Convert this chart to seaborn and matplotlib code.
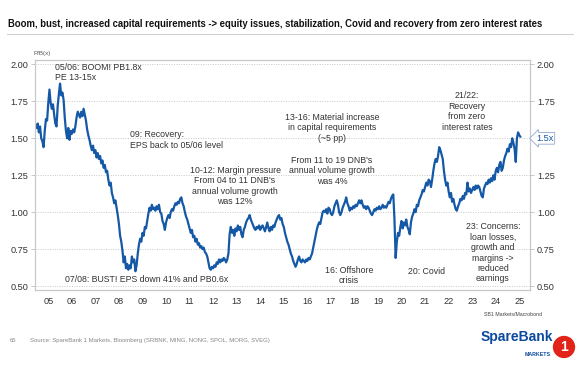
import numpy as np
import pandas as pd
import matplotlib
matplotlib.use("Agg")
import matplotlib.pyplot as plt
import seaborn as sns

# --- data: P/B (x), sampled every 0.05 year from 2005.00
start_year = 2005.0
step = 0.05
pb = [
    # 2005
    1.57, 1.60, 1.54, 1.58, 1.50, 1.48, 1.44, 1.55, 1.63, 1.62, 1.74, 1.83, 1.74, 1.70, 1.73, 1.66, 1.60, 1.58, 1.72, 1.80,
    # 2006
    1.87, 1.79, 1.81, 1.76, 1.64, 1.55, 1.50, 1.57, 1.49, 1.55, 1.53, 1.56, 1.54, 1.58, 1.64, 1.68, 1.66, 1.64, 1.68, 1.65,
    # 2007
    1.70, 1.66, 1.62, 1.56, 1.52, 1.49, 1.45, 1.42, 1.45, 1.40, 1.42, 1.37, 1.40, 1.36, 1.38, 1.33, 1.35, 1.30, 1.32, 1.27,
    # 2008
    1.28, 1.22, 1.18, 1.20, 1.13, 1.10, 1.06, 1.08, 1.03, 0.98, 0.92, 0.84, 0.80, 0.74, 0.66, 0.70, 0.62, 0.65, 0.61, 0.64,
    # 2009
    0.62, 0.70, 0.66, 0.68, 0.60, 0.64, 0.72, 0.78, 0.82, 0.80, 0.86, 0.84, 0.90, 0.89, 0.94, 0.99, 1.03, 1.01, 1.05, 1.02,
    # 2010
    1.03, 1.01, 1.04, 1.02, 1.05, 1.00, 0.99, 0.94, 0.92, 0.88, 0.93, 0.96, 0.98, 0.96, 1.00, 1.02, 1.01, 1.04, 1.06, 1.05,
    # 2011
    1.07, 1.06, 1.09, 1.10, 1.06, 1.04, 1.00, 0.97, 0.95, 0.92, 0.89, 0.86, 0.88, 0.83, 0.84, 0.80, 0.82, 0.78, 0.79, 0.76,
    # 2012
    0.77, 0.75, 0.76, 0.73, 0.72, 0.70, 0.66, 0.62, 0.61, 0.63, 0.62, 0.64, 0.63, 0.66, 0.65, 0.68, 0.66, 0.68, 0.67, 0.69,
    # 2013
    0.68, 0.66, 0.68, 0.72, 0.85, 0.90, 0.86, 0.88, 0.84, 0.89, 0.87, 0.91, 0.88, 0.90, 0.85, 0.83, 0.88, 0.90, 0.93, 0.95,
    # 2014
    0.96, 0.98, 0.95, 0.93, 0.91, 0.89, 0.88, 0.90, 0.89, 0.91, 0.88, 0.90, 0.91, 0.89, 0.87, 0.90, 0.93, 0.89, 0.87, 0.90,
    # 2015
    0.88, 0.91, 0.90, 0.93, 0.95, 0.97, 0.98, 0.95, 0.96, 0.92, 0.90, 0.86, 0.83, 0.80, 0.78, 0.75, 0.72, 0.70, 0.67, 0.65,
    # 2016
    0.63, 0.65, 0.68, 0.70, 0.67, 0.66, 0.68, 0.67, 0.66, 0.68, 0.67, 0.69, 0.68, 0.70, 0.72, 0.76, 0.80, 0.84, 0.88, 0.91,
    # 2017
    0.93, 0.92, 0.96, 1.00, 1.01, 1.00, 1.02, 0.99, 1.03, 1.02, 0.99, 0.98, 1.00, 1.04, 1.06, 1.08, 1.05, 1.00, 0.98, 1.00,
    # 2018
    1.03, 1.05, 1.07, 1.10, 1.06, 1.04, 1.01, 1.03, 1.02, 1.04, 1.03, 1.05, 1.04, 1.06, 1.08, 1.06, 1.08, 1.05, 1.03, 1.04,
    # 2019
    1.02, 1.04, 1.03, 1.01, 0.99, 0.98, 1.00, 1.02, 1.01, 1.03, 1.02, 1.04, 1.02, 1.03, 1.05, 1.03, 1.04, 1.03, 1.05, 1.07,
    # 2020
    1.06, 1.09, 1.11, 1.12, 0.95, 0.69, 0.80, 0.86, 0.84, 0.90, 0.94, 0.89, 0.93, 0.91, 0.95, 0.90, 0.88, 0.85, 0.93, 0.97,
    # 2021
    0.99, 1.02, 1.00, 1.05, 1.04, 1.08, 1.10, 1.12, 1.15, 1.14, 1.17, 1.20, 1.18, 1.22, 1.21, 1.17, 1.22, 1.28, 1.33, 1.36,
    # 2022
    1.34, 1.38, 1.44, 1.42, 1.39, 1.36, 1.28, 1.22, 1.18, 1.20, 1.14, 1.10, 1.13, 1.07, 1.09, 1.05, 1.02, 1.01, 1.04, 1.06,
    # 2023
    1.09, 1.08, 1.11, 1.09, 1.13, 1.12, 1.20, 1.14, 1.16, 1.13, 1.15, 1.17, 1.15, 1.18, 1.16, 1.18, 1.17, 1.14, 1.11, 1.10,
    # 2024
    1.16, 1.18, 1.20, 1.19, 1.22, 1.20, 1.23, 1.21, 1.25, 1.22, 1.28, 1.30, 1.27, 1.32, 1.34, 1.28, 1.30, 1.35, 1.38, 1.40,
    # 2025
    1.43, 1.41, 1.46, 1.44, 1.50, 1.47, 1.43, 1.34, 1.50, 1.54, 1.52, 1.51,
]
year_labels = ["05", "06", "07", "08", "09", "10", "11", "12", "13", "14",
               "15", "16", "17", "18", "19", "20", "21", "22", "23", "24", "25"]
y_ticks = [0.50, 0.75, 1.00, 1.25, 1.50, 1.75, 2.00]
last_value_label = "1.5x"

df = pd.DataFrame({"year": start_year + step * np.arange(len(pb)), "pb": pb})

# --- style
sns.set_style("white")
plt.rcParams["font.family"] = ["Liberation Sans", "DejaVu Sans"]
TXT = "#333333"
GRID = "#c8c8c8"
BLUE = "#1559a6"

fig = plt.figure(figsize=(5.86, 3.65), dpi=100)
ax = fig.add_axes([35 / 586, 1 - 290 / 365, 495 / 586, 230 / 365])

sns.lineplot(data=df, x="year", y="pb", ax=ax, color=BLUE, linewidth=1.6)

ax.set_xlim(2004.936, 2025.955)
ax.set_ylim(0.473, 2.03)
ax.set_xlabel("")
ax.set_ylabel("")

# x axis: boundary ticks, labels mid-year
ax.set_xticks(np.arange(2005, 2026))
ax.set_xticklabels([])
ax.set_xticks(np.arange(2005, 2026) + 0.5, minor=True)
ax.set_xticklabels(year_labels, minor=True)
ax.tick_params(axis="x", which="major", length=4, width=0.7, color=GRID, direction="out")
ax.tick_params(axis="x", which="minor", length=0, labelsize=6.6, labelcolor=TXT, pad=5)

# y axis both sides
ax.set_yticks(y_ticks)
ax.set_yticklabels([f"{v:.2f}" for v in y_ticks])
ax.tick_params(axis="y", length=3, width=0.7, color=GRID, labelsize=6.6, labelcolor=TXT, pad=2)
ax.grid(axis="y", linestyle=(0, (1, 1.5)), color=GRID, linewidth=0.7)

ax2 = ax.twinx()
ax2.set_ylim(ax.get_ylim())
ax2.set_yticks(y_ticks)
ax2.set_yticklabels(["" if v == 1.50 else f"{v:.2f}" for v in y_ticks])
ax2.tick_params(axis="y", length=3, width=0.7, color=GRID, labelsize=6.6, labelcolor=TXT, pad=2)

for a in (ax, ax2):
    for s in a.spines.values():
        s.set_color(GRID)
        s.set_linewidth(0.8)

# last value callout on right axis
ax2.text(1.012, 1.50, last_value_label, transform=ax2.get_yaxis_transform(),
         ha="left", va="center", fontsize=6.6, color=BLUE,
         bbox=dict(boxstyle="larrow,pad=0.15", fc="white", ec="#8fa9cf", lw=0.6))

# annotations
ann = dict(fontsize=6.3, color=TXT, linespacing=1.2)
ax.text(2005.79, 1.945, "05/06: BOOM! PB1.8x\nPE 13-15x", ha="left", va="center", **ann)
ax.text(2008.97, 1.489, "09: Recovery:\nEPS back to 05/06 level", ha="left", va="center", **ann)
ax.text(2013.43, 1.177, "10-12: Margin pressure\nFrom 04 to 11 DNB's\nannual volume growth\nwas 12%",
        ha="center", va="center", **ann)
ax.text(2017.55, 1.57, "13-16: Material increase\nin capital requirements\n(~5 pp)",
        ha="center", va="center", **ann)
ax.text(2017.55, 1.279, "From 11 to 19 DNB's\nannual volume growth\nwas 4%",
        ha="center", va="center", **ann)
ax.text(2023.28, 1.682, "21/22:\nRecovery\nfrom zero\ninterest rates", ha="center", va="center", **ann)
ax.text(2006.21, 0.541, "07/08: BUST! EPS down 41% and PB0.6x", ha="left", va="center", **ann)
ax.text(2018.27, 0.571, "16: Offshore\ncrisis", ha="center", va="center", **ann)
ax.text(2021.58, 0.595, "20: Covid", ha="center", va="center", **ann)
ax.text(2024.38, 0.724, "23: Concerns:\nloan losses,\ngrowth and\nmargins ->\nreduced\nearnings",
        ha="center", va="center", **ann)

# slide furniture
fig.text(7.5 / 586, 1 - 24 / 365,
         "Boom, bust, increased capital requirements -> equity issues, stabilization, Covid and recovery from zero interest rates",
         ha="left", va="center", fontsize=6.85, fontweight="bold", color="#111111")
fig.add_artist(plt.Line2D([7 / 586, 573 / 586], [1 - 34 / 365, 1 - 34 / 365], color="#d0d0d0", lw=0.8))
fig.text(33 / 586, 1 - 53 / 365, "P/B(x)", ha="left", va="center", fontsize=4.5, color="#555555")
fig.text(542 / 586, 1 - 314.5 / 365, "SB1 Markets/Macrobond", ha="right", va="center", fontsize=3.8, color="#444444")
fig.text(10 / 586, 1 - 340.5 / 365, "65", ha="left", va="center", fontsize=4.3, color="#888888")
fig.text(30 / 586, 1 - 340.5 / 365,
         "Source: SpareBank 1 Markets, Bloomberg (SRBNK, MING, NONG, SPOL, MORG, SVEG)",
         ha="left", va="center", fontsize=4.3, color="#888888")
fig.text(553 / 586, 1 - 337 / 365, "SpareBank", ha="right", va="center", fontsize=10,
         fontweight="bold", color="#0b4a9e")
fig.text(551 / 586, 1 - 354 / 365, "MARKETS", ha="right", va="center", fontsize=3.8,
         fontweight="bold", color="#0b4a9e")
fig.text(564 / 586, 1 - 347 / 365, "1", ha="center", va="center", fontsize=10, fontweight="bold",
         color="white", bbox=dict(boxstyle="circle,pad=0.3", fc="#e2231a", ec="none"))

fig.savefig("out.png", dpi=100)
